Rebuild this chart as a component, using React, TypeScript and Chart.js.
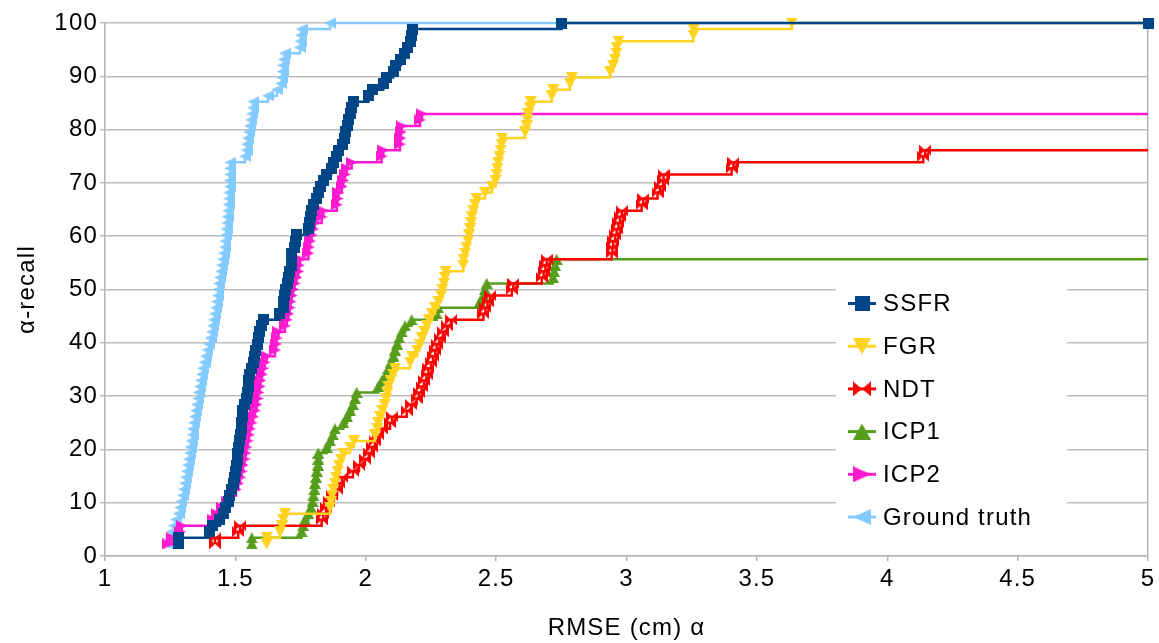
import React, { useEffect, useRef } from 'react';
import { Chart, registerables } from 'chart.js';

Chart.register(...registerables);

// Cumulative recall levels (%), one per step
const levels = [
  2.27, 3.41, 4.55, 5.68, 6.82, 7.95, 9.09, 10.23, 11.36, 12.5,
  13.64, 14.77, 15.91, 17.05, 18.18, 19.32, 20.45, 21.59, 22.73, 23.86,
  25.0, 26.14, 27.27, 28.41, 29.55, 30.68, 31.82, 32.95, 34.09, 35.23,
  36.36, 37.5, 38.64, 39.77, 40.91, 42.05, 43.18, 44.32, 45.45, 46.59,
  47.73, 48.86, 50.0, 51.14, 52.27, 53.41, 54.55, 55.68, 56.82, 57.95,
  59.09, 60.23, 61.36, 62.5, 63.64, 64.77, 65.91, 67.05, 68.18, 69.32,
  70.45, 71.59, 72.73, 73.86, 75.0, 76.14, 77.27, 78.41, 79.55, 80.68,
  81.82, 82.95, 84.09, 85.23, 86.36, 87.5, 88.64, 89.77, 90.91, 92.05,
  93.18, 94.32, 95.45, 96.59, 97.73, 98.86, 100,
];

// RMSE values (cm) at each level, per method
const ssfrX = [
  1.281, 1.282, 1.399, 1.414, 1.441, 1.456, 1.464, 1.474, 1.479, 1.485,
  1.491, 1.497, 1.500, 1.504, 1.508, 1.510, 1.512, 1.516, 1.518, 1.522,
  1.523, 1.527, 1.529, 1.535, 1.541, 1.545, 1.550, 1.552, 1.556, 1.560,
  1.568, 1.573, 1.579, 1.585, 1.589, 1.594, 1.602, 1.607, 1.671, 1.683,
  1.686, 1.690, 1.694, 1.698, 1.703, 1.709, 1.715, 1.716, 1.717, 1.725,
  1.731, 1.735, 1.780, 1.786, 1.788, 1.792, 1.798, 1.812, 1.818, 1.825,
  1.837, 1.851, 1.867, 1.878, 1.889, 1.897, 1.909, 1.917, 1.924, 1.930,
  1.934, 1.940, 1.946, 1.952, 2.010, 2.024, 2.067, 2.081, 2.105, 2.116,
  2.135, 2.147, 2.162, 2.170, 2.176, 2.181, 2.751,
];

const fgrX = [
  1.620, 1.620, 1.671, 1.679, 1.684, 1.690, 1.863, 1.867, 1.871, 1.876,
  1.882, 1.886, 1.892, 1.897, 1.905, 1.914, 1.940, 1.955, 2.035, 2.045,
  2.048, 2.055, 2.064, 2.072, 2.078, 2.083, 2.087, 2.095, 2.105, 2.112,
  2.170, 2.177, 2.197, 2.206, 2.216, 2.225, 2.234, 2.243, 2.254, 2.266,
  2.279, 2.289, 2.294, 2.300, 2.304, 2.306, 2.374, 2.375, 2.381, 2.386,
  2.392, 2.396, 2.400, 2.404, 2.407, 2.413, 2.419, 2.425, 2.457, 2.484,
  2.498, 2.502, 2.505, 2.508, 2.513, 2.517, 2.521, 2.523, 2.611, 2.617,
  2.620, 2.623, 2.630, 2.632, 2.713, 2.719, 2.783, 2.790, 2.937, 2.948,
  2.956, 2.961, 2.962, 2.969, 3.256, 3.257, 3.634,
];

const ndtX = [
  1.422, 1.422, 1.511, 1.518, 1.831, 1.837, 1.848, 1.859, 1.871, 1.890,
  1.899, 1.909, 1.951, 1.974, 1.997, 2.012, 2.024, 2.035, 2.048, 2.061,
  2.093, 2.101, 2.157, 2.174, 2.195, 2.204, 2.214, 2.223, 2.233, 2.240,
  2.250, 2.258, 2.266, 2.272, 2.283, 2.296, 2.312, 2.327, 2.451, 2.459,
  2.467, 2.477, 2.560, 2.566, 2.675, 2.682, 2.689, 2.694, 2.943, 2.946,
  2.949, 2.956, 2.962, 2.969, 2.975, 2.982, 3.058, 3.064, 3.119, 3.128,
  3.141, 3.142, 3.403, 3.410, 4.138, 4.145,
];

const icp1X = [
  1.563, 1.563, 1.754, 1.760, 1.767, 1.780, 1.790, 1.796, 1.799, 1.803,
  1.805, 1.809, 1.812, 1.817, 1.818, 1.818, 1.850, 1.863, 1.874, 1.882,
  1.914, 1.928, 1.940, 1.951, 1.959, 1.965, 2.048, 2.062, 2.078, 2.087,
  2.097, 2.106, 2.112, 2.120, 2.128, 2.138, 2.151, 2.176, 2.272, 2.277,
  2.438, 2.451, 2.457, 2.464, 2.718, 2.722, 2.726, 2.732,
];

const icp2X = [
  1.243, 1.257, 1.288, 1.294, 1.415, 1.428, 1.449, 1.468, 1.487, 1.502,
  1.511, 1.518, 1.524, 1.529, 1.535, 1.539, 1.542, 1.547, 1.552, 1.556,
  1.562, 1.568, 1.575, 1.581, 1.585, 1.588, 1.593, 1.596, 1.602, 1.607,
  1.612, 1.620, 1.652, 1.656, 1.658, 1.665, 1.690, 1.697, 1.703, 1.708,
  1.711, 1.716, 1.721, 1.727, 1.734, 1.741, 1.744, 1.748, 1.780, 1.782,
  1.786, 1.792, 1.798, 1.805, 1.831, 1.837, 1.889, 1.892, 1.895, 1.908,
  1.914, 1.920, 1.927, 1.946, 2.061, 2.067, 2.131, 2.133, 2.135, 2.138,
  2.208, 2.215,
];

const groundTruthX = [
  1.238, 1.249, 1.257, 1.265, 1.272, 1.282, 1.288, 1.293, 1.299, 1.303,
  1.307, 1.311, 1.314, 1.318, 1.322, 1.326, 1.328, 1.332, 1.336, 1.337,
  1.341, 1.345, 1.349, 1.353, 1.357, 1.360, 1.364, 1.368, 1.372, 1.376,
  1.382, 1.387, 1.393, 1.399, 1.405, 1.410, 1.414, 1.418, 1.422, 1.426,
  1.430, 1.433, 1.435, 1.437, 1.441, 1.445, 1.449, 1.453, 1.456, 1.460,
  1.462, 1.464, 1.466, 1.468, 1.470, 1.472, 1.474, 1.476, 1.477, 1.479,
  1.479, 1.480, 1.480, 1.481, 1.537, 1.543, 1.545, 1.548, 1.552, 1.556,
  1.560, 1.564, 1.568, 1.569, 1.625, 1.660, 1.675, 1.679, 1.681, 1.683,
  1.686, 1.690, 1.748, 1.750, 1.752, 1.754, 1.863,
];

const seriesLabels = ['SSFR', 'FGR', 'NDT', 'ICP1', 'ICP2', 'Ground truth'];
const seriesX = [ssfrX, fgrX, ndtX, icp1X, icp2X, groundTruthX];
const seriesColors = ['#004586', '#ffd320', '#ff0000', '#579d1c', '#ff1ad0', '#83caff'];
const seriesShapes = ['square', 'down', 'bowtie', 'up', 'right', 'left'];
const showEndMarker = [true, false, false, false, false, false];

const xMin = 1;
const xMax = 5;
const xStep = 0.5;
const yMin = 0;
const yMax = 100;
const yStep = 10;

const FONT_FAMILY = '"Liberation Sans", Arial, sans-serif';
const FONT_SIZE = 24;

function makeMarker(shape: string, color: string, w: number, h: number): HTMLCanvasElement {
  const c = document.createElement('canvas');
  c.width = w;
  c.height = h;
  const g = c.getContext('2d')!;
  g.fillStyle = color;
  g.beginPath();
  switch (shape) {
    case 'square':
      g.rect(0, 0, w, h);
      break;
    case 'down':
      g.moveTo(0, 0); g.lineTo(w, 0); g.lineTo(w / 2, h); g.closePath();
      break;
    case 'up':
      g.moveTo(w / 2, 0); g.lineTo(w, h); g.lineTo(0, h); g.closePath();
      break;
    case 'right':
      g.moveTo(0, 0); g.lineTo(w, h / 2); g.lineTo(0, h); g.closePath();
      break;
    case 'left':
      g.moveTo(w, 0); g.lineTo(0, h / 2); g.lineTo(w, h); g.closePath();
      break;
    case 'bowtie':
      g.moveTo(0, 0); g.lineTo(w / 2, h / 2); g.lineTo(0, h); g.closePath();
      g.moveTo(w, 0); g.lineTo(w / 2, h / 2); g.lineTo(w, h); g.closePath();
      break;
  }
  g.fill();
  return c;
}

function plotMarker(shape: string, color: string) {
  if (shape === 'square') return makeMarker(shape, color, 11, 11);
  return makeMarker(shape, color, 12, 11);
}

function legendMarker(shape: string, color: string) {
  if (shape === 'square') return makeMarker(shape, color, 15, 15);
  if (shape === 'bowtie') return makeMarker(shape, color, 18, 15);
  return makeMarker(shape, color, 18, 16);
}

export default function App() {
  const ref = useRef<HTMLCanvasElement>(null);

  useEffect(() => {
    document.body.style.margin = '0';
    const canvas = ref.current;
    if (!canvas) return;

    const plotMarkers = seriesShapes.map((s, i) => plotMarker(s, seriesColors[i]));
    const legendMarkers = seriesShapes.map((s, i) => legendMarker(s, seriesColors[i]));

    const datasets = seriesLabels.map((label, i) => {
      const xs = seriesX[i];
      const pts = xs.map((x, j) => ({ x, y: levels[j] }));
      pts.push({ x: xMax, y: levels[xs.length - 1] });
      const lastIdx = pts.length - 1;
      const endMarker = showEndMarker[i];
      return {
        label,
        data: pts,
        borderColor: seriesColors[i],
        backgroundColor: seriesColors[i],
        borderWidth: 2.5,
        stepped: 'before' as const,
        fill: false,
        tension: 0,
        clip: false as any,
        pointStyle: plotMarkers[i],
        pointRadius: (ctx: any) => (ctx.dataIndex === lastIdx && !endMarker ? 0 : 5),
        pointHoverRadius: (ctx: any) => (ctx.dataIndex === lastIdx && !endMarker ? 0 : 5),
      };
    });

    const font = { family: FONT_FAMILY, size: FONT_SIZE };

    const bgPlugin = {
      id: 'bgAndSpacing',
      beforeDraw(chart: any) {
        const ctx = chart.ctx;
        if ('letterSpacing' in ctx) ctx.letterSpacing = '1.2px';
        ctx.save();
        ctx.fillStyle = '#ffffff';
        ctx.fillRect(0, 0, chart.width, chart.height);
        ctx.restore();
      },
    };

    const legendPlugin = {
      id: 'insideLegend',
      afterDraw(chart: any) {
        const ctx = chart.ctx;
        ctx.save();
        ctx.fillStyle = '#ffffff';
        ctx.fillRect(836, 281, 231, 258);
        const top = 303.5;
        const gap = 42.7;
        chart.data.datasets.forEach((ds: any, i: number) => {
          const cy = top + i * gap;
          ctx.strokeStyle = ds.borderColor;
          ctx.lineWidth = 3;
          ctx.beginPath();
          ctx.moveTo(848, cy);
          ctx.lineTo(876, cy);
          ctx.stroke();
          const m = legendMarkers[i];
          ctx.drawImage(m, 862 - m.width / 2, cy - m.height / 2);
          ctx.fillStyle = '#000000';
          ctx.font = `${FONT_SIZE}px ${FONT_FAMILY}`;
          ctx.textAlign = 'left';
          ctx.textBaseline = 'middle';
          ctx.fillText(ds.label, 883, cy + 1);
        });
        ctx.restore();
      },
    };

    const chart = new Chart(canvas, {
      type: 'line',
      data: { datasets: datasets as any },
      options: {
        responsive: false,
        animation: false,
        devicePixelRatio: 1,
        layout: { padding: { top: 23, right: 11, left: 0, bottom: 0 } },
        plugins: {
          legend: { display: false },
          tooltip: { enabled: false },
        },
        events: [],
        scales: {
          x: {
            type: 'linear',
            min: xMin,
            max: xMax,
            ticks: {
              stepSize: xStep,
              autoSkip: false,
              maxRotation: 0,
              padding: 4,
              color: '#000000',
              font,
              callback: (v: any) => String(Number(v)),
            },
            grid: {
              color: (ctx: any) => (ctx.tick && ctx.tick.value === xMax ? '#b3b3b3' : 'rgba(0,0,0,0)'),
              tickColor: '#b3b3b3',
              tickLength: 5,
              lineWidth: 1.5,
            },
            border: { color: '#b3b3b3', width: 1.5 },
            title: {
              display: true,
              text: 'RMSE (cm) α',
              color: '#000000',
              font,
              padding: { top: 0, bottom: 0 },
            },
            afterFit: (s: any) => { s.height = 87; },
          },
          y: {
            type: 'linear',
            min: yMin,
            max: yMax,
            ticks: {
              stepSize: yStep,
              padding: 2,
              color: '#000000',
              font,
            },
            grid: {
              color: '#bdbdbd',
              tickColor: '#bdbdbd',
              tickLength: 5,
              lineWidth: 1.5,
            },
            border: { color: '#b3b3b3', width: 1.5 },
            title: {
              display: true,
              text: 'α-recall',
              color: '#000000',
              font,
              padding: { top: 13, bottom: 0 },
            },
            afterFit: (s: any) => { s.width = 105; },
          },
        },
      },
      plugins: [bgPlugin, legendPlugin],
    });

    return () => chart.destroy();
  }, []);

  return (
    <div style={{ width: 1159, height: 643, position: 'relative', background: '#fff' }}>
      <canvas ref={ref} width={1159} height={643} style={{ display: 'block' }} />
    </div>
  );
}
